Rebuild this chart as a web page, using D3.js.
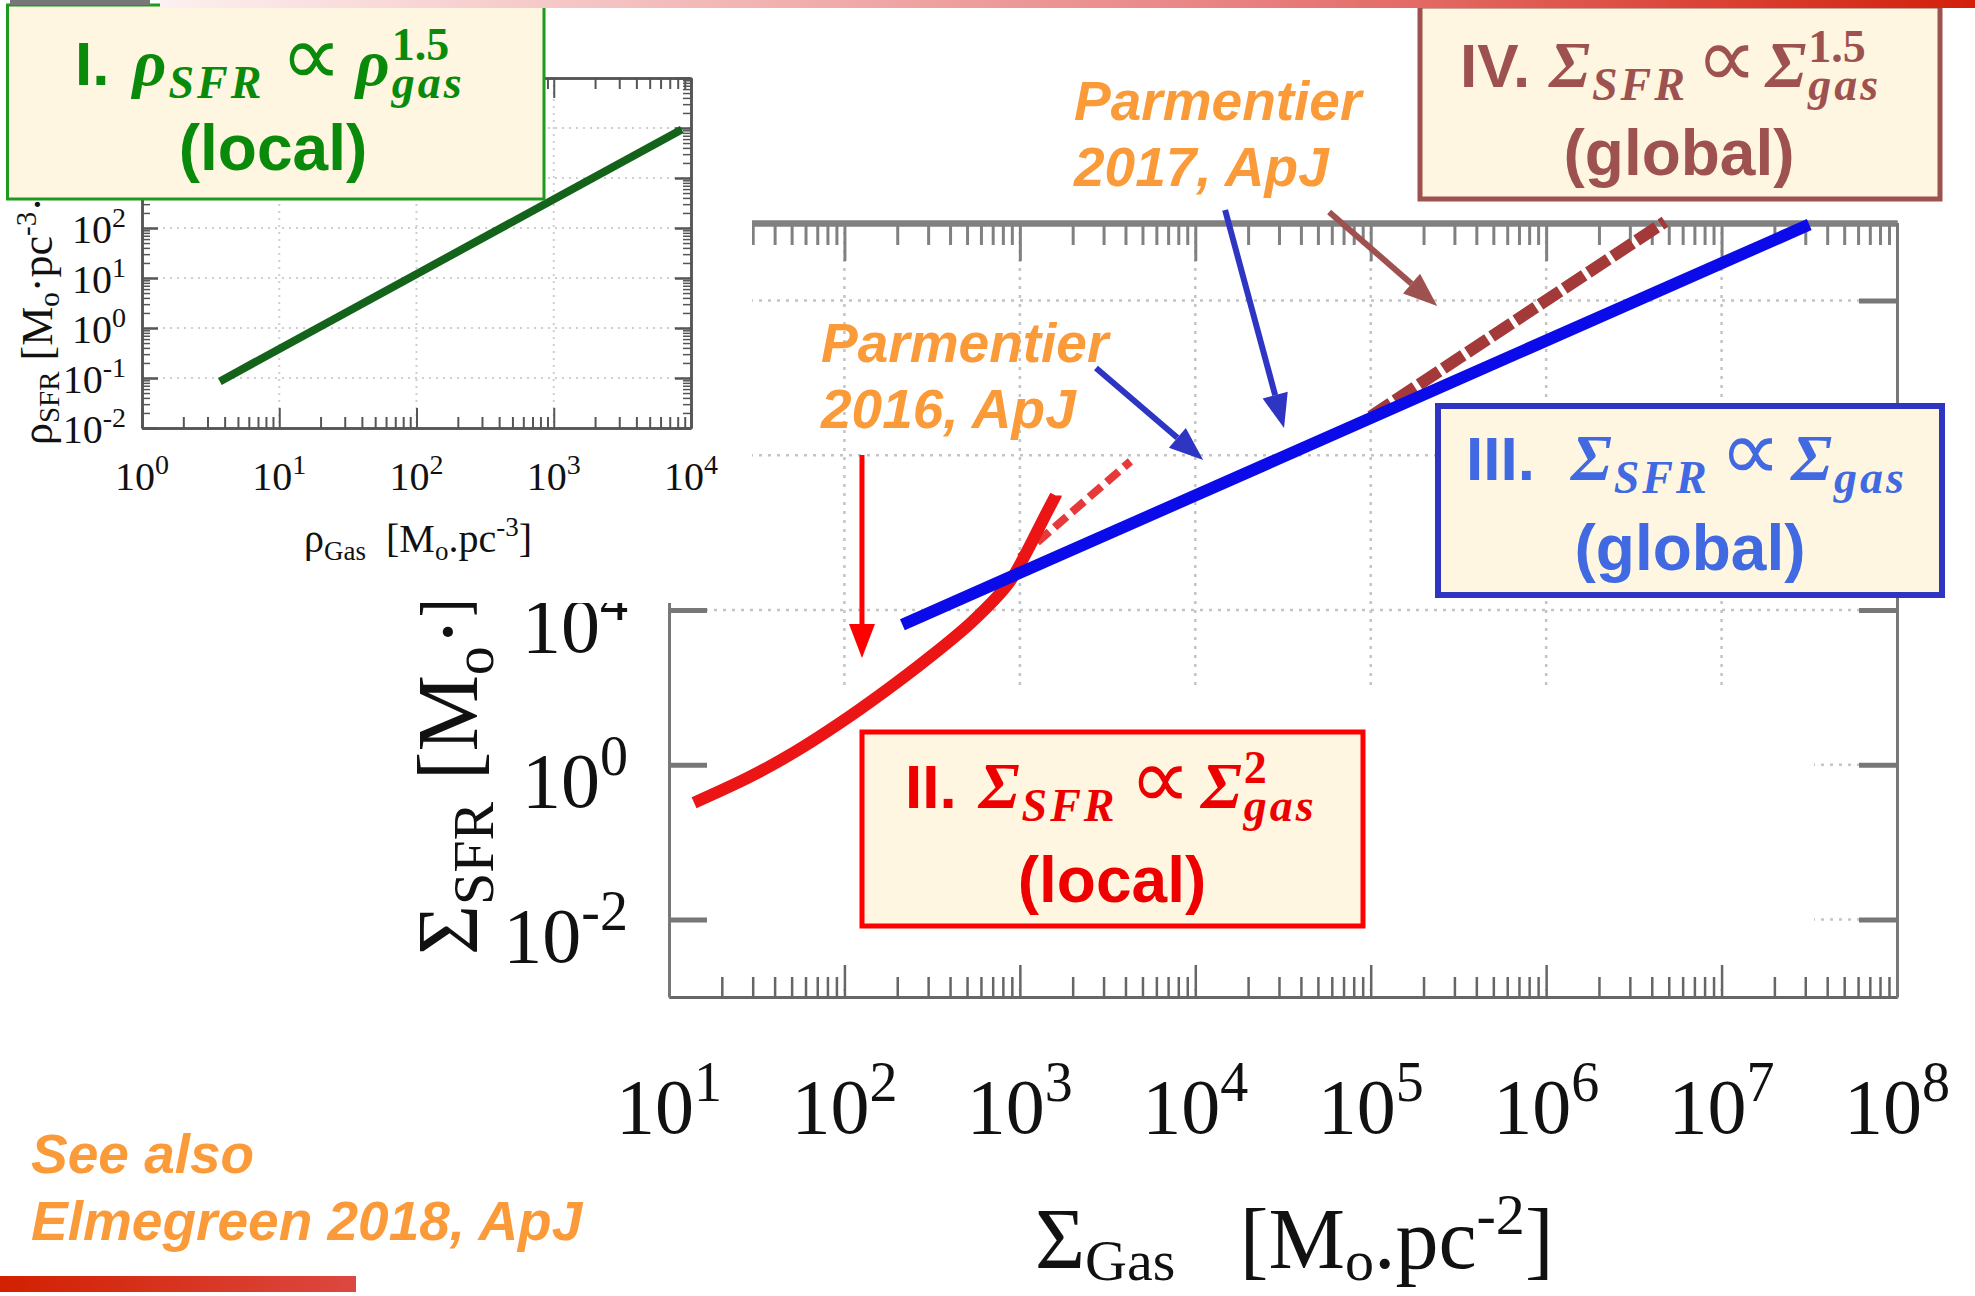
<!doctype html>
<html>
<head>
<meta charset="utf-8">
<script src="https://cdnjs.cloudflare.com/ajax/libs/d3/7.8.5/d3.min.js"></script>
<style>
body { margin:0; background:#fff; }
svg { display:block; background:#fff; }
.serif { font-family: "Liberation Serif", "Times New Roman", serif; }
.sans { font-family: "Liberation Sans", Arial, sans-serif; font-weight: bold; }
.math { font-family: "Liberation Serif", serif; font-style: italic; font-weight: bold; }
.sym { font-family: "DejaVu Sans", sans-serif; }
.sup { font-family: "Liberation Serif", serif; font-weight: bold; font-size: 46px; }
.sub { font-family: "Liberation Serif", serif; font-style: italic; font-weight: bold; font-size: 46px; letter-spacing: 3px; }
.orange { font-family: "Liberation Sans", Arial, sans-serif; font-weight: bold; font-style: italic; font-size: 55px; fill: #fb9a39; }
</style>
</head>
<body>
<svg id="chart" width="1975" height="1296"></svg>
<script>
// main panel: Sigma_SFR vs Sigma_gas
var xTicksMain = [1e1, 1e2, 1e3, 1e4, 1e5, 1e6, 1e7, 1e8];
var xTickExpMain = ["1", "2", "3", "4", "5", "6", "7", "8"];
var yTicksMain = [1e-2, 1e0, 1e2];
var yTickExpMain = ["-2", "0", "4"];
var gridX = [1e2, 1e3, 1e4, 1e5, 1e6, 1e7];
var gridY = [1e-2, 1e0, 1e2, 1e4, 1e6];

var redGas = [13.9, 28.8, 51.9, 93.3, 167.5, 300.6, 540.8, 863, 1091, 1303, 1600];
var redSfr = [0.324, 0.698, 1.455, 3.41, 8.69, 23.8, 72.6, 222.8, 557, 1230, 3020];
var redDashGas = [1000, 4266];
var redDashSfr = [479, 8318];
var blueGas = [214, 3.16e7];
var blueSfr = [64.6, 9.55e6];
var brownGas = [1e5, 4.76e6];
var brownSfr = [3.16e4, 1.04e7];

// arrows, in data units of the main panel
var arrowFrom = [[2716, 1.34e5], [1.479e4, 1.472e7], [5.794e4, 1.387e7], [125.9, 1.007e4]];
var arrowTo = [[1.109e4, 8670], [3.206e4, 2.244e4], [2.393e5, 8.47e5], [125.9, 24.0]];
var arrowColor = ["#2e35c2", "#2e35c2", "#9e5250", "#ff0000"];

// inset: rho_SFR vs rho_gas
var xTicksIn = [1, 10, 100, 1000, 10000];
var xTickExpIn = ["0", "1", "2", "3", "4"];
var yTicksIn = [1e-2, 1e-1, 1, 10, 100];
var yTickExpIn = ["-2", "-1", "0", "1", "2"];
var gridXIn = [10, 100, 1000];
var gridYIn = [1e-1, 1, 10, 100, 1000, 1e4];
var greenGas = [3.69, 8570];
var greenSfr = [0.0855, 9350];

var svg = d3.select("#chart");

function minors(lo, hi) {
  var out = [];
  for (var k = lo; k < hi; k++)
    for (var m = 2; m <= 9; m++) out.push(m * Math.pow(10, k));
  return out;
}

function powLabel(g, xp, yp, exp, size, supSize, supDy, anchor) {
  var t = g.append("text").attr("class", "serif")
    .attr("x", xp).attr("y", yp).attr("text-anchor", anchor)
    .style("font-size", size + "px").attr("fill", "#111");
  t.append("tspan").text("10");
  t.append("tspan").attr("dy", -supDy).style("font-size", supSize + "px").text(exp);
  return t;
}

function styleAxis(g, color, dw, tw) {
  g.select(".domain").attr("stroke", color).attr("stroke-width", dw);
  g.selectAll(".tick line").attr("stroke", color).attr("stroke-width", tw);
}

// ---------------- main panel ----------------
var x = d3.scaleLog().domain([1e1, 1e8]).range([669, 1897]);
var y = d3.scaleLog().domain([1e-3, 1e7]).range([997, 223]);
var main = svg.append("g");

main.selectAll(".gx").data(gridX).enter().append("line")
  .attr("x1", d => x(d)).attr("x2", d => x(d)).attr("y1", 223).attr("y2", 997)
  .attr("stroke", "#c4c4c4").attr("stroke-width", 2.5).attr("stroke-dasharray", "3,6");
main.selectAll(".gy").data(gridY).enter().append("line")
  .attr("x1", 669).attr("x2", 1897).attr("y1", d => y(d)).attr("y2", d => y(d))
  .attr("stroke", "#c4c4c4").attr("stroke-width", 2.5).attr("stroke-dasharray", "3,6");

// blank patch in the lower part of the panel
main.append("rect").attr("x", 680).attr("y", 686).attr("width", 1134).attr("height", 303).attr("fill", "#fff");

var ax;
ax = main.append("g").attr("transform", "translate(0,997)")
  .call(d3.axisTop(x).tickValues(minors(1, 8)).tickSizeInner(20).tickSizeOuter(0).tickFormat(""));
styleAxis(ax, "#666", 3, 2.5);
ax = main.append("g").attr("transform", "translate(0,997)")
  .call(d3.axisTop(x).tickValues(xTicksMain).tickSizeInner(32).tickSizeOuter(0).tickFormat(""));
styleAxis(ax, "#666", 3, 2.5);
ax = main.append("g").attr("transform", "translate(0,223)")
  .call(d3.axisBottom(x).tickValues(minors(1, 8)).tickSizeInner(22).tickSizeOuter(0).tickFormat(""));
styleAxis(ax, "#808080", 6, 3);
ax = main.append("g").attr("transform", "translate(0,223)")
  .call(d3.axisBottom(x).tickValues(xTicksMain).tickSizeInner(38).tickSizeOuter(0).tickFormat(""));
styleAxis(ax, "#808080", 6, 3);
ax = main.append("g").attr("transform", "translate(669,0)")
  .call(d3.axisRight(y).tickValues(gridY).tickSizeInner(38).tickSizeOuter(0).tickFormat(""));
styleAxis(ax, "#777", 3, 5);
ax = main.append("g").attr("transform", "translate(1897,0)")
  .call(d3.axisLeft(y).tickValues(gridY).tickSizeInner(38).tickSizeOuter(0).tickFormat(""));
styleAxis(ax, "#777", 3, 5);
main.selectAll(".tick text").remove();

var lineStraight = d3.line().x(d => x(d[0])).y(d => y(d[1]));
var lineCurve = d3.line().x(d => x(d[0])).y(d => y(d[1])).curve(d3.curveCatmullRom.alpha(0.5));

main.append("path").datum(d3.zip(redDashGas, redDashSfr)).attr("d", lineStraight)
  .attr("fill", "none").attr("stroke", "#e8393a").attr("stroke-width", 8).attr("stroke-dasharray", "16,7");
main.append("path").datum(d3.zip(redGas, redSfr)).attr("d", lineCurve)
  .attr("fill", "none").attr("stroke", "#ec1515").attr("stroke-width", 12);
main.append("path").datum(d3.zip(brownGas, brownSfr)).attr("d", lineStraight)
  .attr("fill", "none").attr("stroke", "#a4393a").attr("stroke-width", 12).attr("stroke-dasharray", "24,5");
main.append("path").datum(d3.zip(blueGas, blueSfr)).attr("d", lineStraight)
  .attr("fill", "none").attr("stroke", "#0b0bea").attr("stroke-width", 12);

xTicksMain.forEach(function (v, i) { powLabel(main, x(v), 1133, xTickExpMain[i], 78, 56, 32, "middle"); });
yTicksMain.forEach(function (v, i) { powLabel(main, 628, y(v) + 42, yTickExpMain[i], 78, 56, 32, "end"); });

var xt = main.append("text").attr("class", "serif").attr("x", 1035).attr("y", 1268)
  .style("font-size", "86px").attr("fill", "#111");
xt.append("tspan").text("Σ");
xt.append("tspan").attr("dy", 12).style("font-size", "58px").text("Gas");
xt.append("tspan").attr("dy", -12).text("\u00a0\u00a0\u00a0[M");
xt.append("tspan").attr("dy", 12).style("font-size", "58px").text("o");
xt.append("tspan").attr("dy", -12).text(".pc");
xt.append("tspan").attr("dy", -34).style("font-size", "58px").text("-2");
xt.append("tspan").attr("dy", 34).text("]");

var yt = main.append("text").attr("class", "serif").attr("transform", "translate(477,955) rotate(-90)")
  .style("font-size", "86px").attr("fill", "#111");
yt.append("tspan").text("Σ");
yt.append("tspan").attr("dy", 16).style("font-size", "58px").text("SFR");
yt.append("tspan").attr("dy", -16).text("\u00a0[M");
yt.append("tspan").attr("dy", 16).style("font-size", "58px").text("o");
yt.append("tspan").attr("dy", -16).text("·Pc");
yt.append("tspan").attr("dy", -34).style("font-size", "58px").text("-2");
yt.append("tspan").attr("dy", 34).text("·Myr]");

// ---------------- inset ----------------
var xi = d3.scaleLog().domain([1, 1e4]).range([142, 691]);
var yi = d3.scaleLog().domain([1e-2, 1e5]).range([428, 78]);
var inset = svg.append("g");
inset.append("rect").attr("x", 0).attr("y", 0).attr("width", 752).attr("height", 603).attr("fill", "#fff");

inset.selectAll(".gx").data(gridXIn).enter().append("line")
  .attr("x1", d => xi(d)).attr("x2", d => xi(d)).attr("y1", 78).attr("y2", 428)
  .attr("stroke", "#cfcfcf").attr("stroke-width", 2).attr("stroke-dasharray", "2,5");
inset.selectAll(".gy").data(gridYIn).enter().append("line")
  .attr("x1", 142).attr("x2", 691).attr("y1", d => yi(d)).attr("y2", d => yi(d))
  .attr("stroke", "#cfcfcf").attr("stroke-width", 2).attr("stroke-dasharray", "2,5");

var yMajIn = [1e-2, 1e-1, 1, 10, 100, 1000, 1e4, 1e5];
ax = inset.append("g").attr("transform", "translate(0,428)")
  .call(d3.axisTop(xi).tickValues(minors(0, 4)).tickSizeInner(11).tickSizeOuter(0).tickFormat(""));
styleAxis(ax, "#555", 2.5, 2);
ax = inset.append("g").attr("transform", "translate(0,428)")
  .call(d3.axisTop(xi).tickValues(xTicksIn).tickSizeInner(20).tickSizeOuter(0).tickFormat(""));
styleAxis(ax, "#555", 2.5, 2);
ax = inset.append("g").attr("transform", "translate(0,78)")
  .call(d3.axisBottom(xi).tickValues(minors(0, 4)).tickSizeInner(11).tickSizeOuter(0).tickFormat(""));
styleAxis(ax, "#555", 2.5, 2);
ax = inset.append("g").attr("transform", "translate(0,78)")
  .call(d3.axisBottom(xi).tickValues(xTicksIn).tickSizeInner(20).tickSizeOuter(0).tickFormat(""));
styleAxis(ax, "#555", 2.5, 2);
ax = inset.append("g").attr("transform", "translate(142,0)")
  .call(d3.axisRight(yi).tickValues(minors(-2, 5)).tickSizeInner(8).tickSizeOuter(0).tickFormat(""));
styleAxis(ax, "#555", 2.5, 1.5);
ax = inset.append("g").attr("transform", "translate(142,0)")
  .call(d3.axisRight(yi).tickValues(yMajIn).tickSizeInner(16).tickSizeOuter(0).tickFormat(""));
styleAxis(ax, "#555", 2.5, 2.5);
ax = inset.append("g").attr("transform", "translate(691,0)")
  .call(d3.axisLeft(yi).tickValues(minors(-2, 5)).tickSizeInner(8).tickSizeOuter(0).tickFormat(""));
styleAxis(ax, "#555", 2.5, 1.5);
ax = inset.append("g").attr("transform", "translate(691,0)")
  .call(d3.axisLeft(yi).tickValues(yMajIn).tickSizeInner(16).tickSizeOuter(0).tickFormat(""));
styleAxis(ax, "#555", 2.5, 2.5);
inset.selectAll(".tick text").remove();

inset.append("path").datum(d3.zip(greenGas, greenSfr))
  .attr("d", d3.line().x(d => xi(d[0])).y(d => yi(d[1])))
  .attr("fill", "none").attr("stroke", "#14631a").attr("stroke-width", 8);

xTicksIn.forEach(function (v, i) { powLabel(inset, xi(v), 490, xTickExpIn[i], 40, 28, 16, "middle"); });
yTicksIn.forEach(function (v, i) { powLabel(inset, 126, yi(v) + 15, yTickExpIn[i], 40, 28, 16, "end"); });

var ixt = inset.append("text").attr("class", "serif").attr("x", 418).attr("y", 552)
  .attr("text-anchor", "middle").style("font-size", "40px").attr("fill", "#111");
ixt.append("tspan").text("ρ");
ixt.append("tspan").attr("dy", 8).style("font-size", "27px").text("Gas");
ixt.append("tspan").attr("dy", -8).text("\u00a0\u00a0[M");
ixt.append("tspan").attr("dy", 8).style("font-size", "27px").text("o");
ixt.append("tspan").attr("dy", -8).text(".pc");
ixt.append("tspan").attr("dy", -16).style("font-size", "27px").text("-3");
ixt.append("tspan").attr("dy", 16).text("]");

var iyt = inset.append("text").attr("class", "serif").attr("transform", "translate(52,445) rotate(-90)")
  .style("font-size", "44px").attr("fill", "#111");
iyt.append("tspan").text("ρ");
iyt.append("tspan").attr("dy", 7).style("font-size", "29px").text("SFR");
iyt.append("tspan").attr("dy", -7).text("\u00a0[M");
iyt.append("tspan").attr("dy", 7).style("font-size", "29px").text("o");
iyt.append("tspan").attr("dy", -7).text("·pc");
iyt.append("tspan").attr("dy", -16).style("font-size", "29px").text("-3");
iyt.append("tspan").attr("dy", 16).text("·Myr]");

// ---------------- boxes ----------------
var FILL = "#fef6e0";
function box(x0, y0, x1, y1, stroke, sw) {
  svg.append("rect").attr("x", x0).attr("y", y0).attr("width", x1 - x0).attr("height", y1 - y0)
    .attr("fill", FILL).attr("stroke", stroke).attr("stroke-width", sw);
}
function formula(x0, base, color, parts) {
  var g = svg.append("g").attr("fill", color);
  var cur = x0;
  parts.forEach(function (p) {
    cur += p.pre || 0;
    var t = g.append("text").attr("x", cur).attr("y", base).attr("class", p.f)
      .style("font-size", p.s + "px").text(p.t);
    cur += t.node().getComputedTextLength();
    var w = 0;
    if (p.sup) {
      var s = g.append("text").attr("x", cur + 2).attr("y", base - 25).attr("class", "sup").text(p.sup);
      w = Math.max(w, s.node().getComputedTextLength() + 2);
    }
    if (p.sub) {
      var b = g.append("text").attr("x", cur + 2).attr("y", base + 13).attr("class", "sub").text(p.sub);
      w = Math.max(w, b.node().getComputedTextLength() + 2);
    }
    cur += w;
  });
}
function line2(cx, base, color, txt) {
  svg.append("text").attr("class", "sans").attr("x", cx).attr("y", base).attr("text-anchor", "middle")
    .style("font-size", "64px").attr("fill", color).text(txt);
}

box(7.5, 5, 544, 199, "#1f9a1f", 3);
formula(75, 85, "#0a8a0a", [
  { t: "I.", f: "sans", s: 62 },
  { t: "ρ", f: "math", s: 66, pre: 23, sub: "SFR" },
  { t: "∝", f: "sym", s: 86, pre: 16 },
  { t: "ρ", f: "math", s: 66, pre: 14, sup: "1.5", sub: "gas" }
]);
line2(273, 170, "#0a8a0a", "(local)");

box(862, 732, 1363, 926, "#ff0000", 5);
formula(905, 808, "#ee0000", [
  { t: "II.", f: "sans", s: 62 },
  { t: "Σ", f: "math", s: 66, pre: 22, sub: "SFR" },
  { t: "∝", f: "sym", s: 86, pre: 12 },
  { t: "Σ", f: "math", s: 66, pre: 10, sup: "2", sub: "gas" }
]);
line2(1112, 902, "#ee0000", "(local)");

box(1438, 406, 1942, 595, "#2f35c0", 6);
formula(1466, 480, "#4169e1", [
  { t: "III.", f: "sans", s: 62 },
  { t: "Σ", f: "math", s: 66, pre: 36, sub: "SFR" },
  { t: "∝", f: "sym", s: 86, pre: 10 },
  { t: "Σ", f: "math", s: 66, pre: 10, sub: "gas" }
]);
line2(1690, 570, "#4169e1", "(global)");

box(1420, 6, 1940, 199, "#9e5250", 5);
formula(1460, 87, "#9e5250", [
  { t: "IV.", f: "sans", s: 62 },
  { t: "Σ", f: "math", s: 66, pre: 19, sub: "SFR" },
  { t: "∝", f: "sym", s: 86, pre: 8 },
  { t: "Σ", f: "math", s: 66, pre: 8, sup: "1.5", sub: "gas" }
]);
line2(1679, 175, "#9e5250", "(global)");

// ---------------- arrows and notes ----------------
arrowFrom.forEach(function (f, i) {
  var x1 = x(f[0]), y1 = y(f[1]), x2 = x(arrowTo[i][0]), y2 = y(arrowTo[i][1]);
  var a = Math.atan2(y2 - y1, x2 - x1), L = 34, W = 13;
  var bx = x2 - L * Math.cos(a), by = y2 - L * Math.sin(a);
  svg.append("line").attr("x1", x1).attr("y1", y1).attr("x2", bx).attr("y2", by)
    .attr("stroke", arrowColor[i]).attr("stroke-width", i === 3 ? 5 : 6);
  svg.append("polygon").attr("fill", arrowColor[i]).attr("points", [
    [x2, y2],
    [bx + W * Math.sin(a), by - W * Math.cos(a)],
    [bx - W * Math.sin(a), by + W * Math.cos(a)]
  ].map(p => p.join(",")).join(" "));
});

svg.append("text").attr("class", "orange").attr("x", 1074).attr("y", 120).text("Parmentier");
svg.append("text").attr("class", "orange").attr("x", 1074).attr("y", 186).text("2017, ApJ");
svg.append("text").attr("class", "orange").attr("x", 821).attr("y", 362).text("Parmentier");
svg.append("text").attr("class", "orange").attr("x", 821).attr("y", 428).text("2016, ApJ");
svg.append("text").attr("class", "orange").attr("x", 31).attr("y", 1173).text("See also");
svg.append("text").attr("class", "orange").attr("x", 31).attr("y", 1240).text("Elmegreen 2018, ApJ");

// slide decoration bars
var defs = svg.append("defs");
var gt = defs.append("linearGradient").attr("id", "gtop");
gt.append("stop").attr("offset", "0%").attr("stop-color", "#fdf0f0");
gt.append("stop").attr("offset", "60%").attr("stop-color", "#e88080");
gt.append("stop").attr("offset", "100%").attr("stop-color", "#d2200a");
var gb = defs.append("linearGradient").attr("id", "gbot");
gb.append("stop").attr("offset", "0%").attr("stop-color", "#d22000");
gb.append("stop").attr("offset", "100%").attr("stop-color", "#dc4840");
svg.append("rect").attr("x", 160).attr("y", 0).attr("width", 1815).attr("height", 8).attr("fill", "url(#gtop)");
svg.append("rect").attr("x", 0).attr("y", 1276).attr("width", 356).attr("height", 16).attr("fill", "url(#gbot)");
svg.append("rect").attr("x", 10).attr("y", 0).attr("width", 140).attr("height", 5).attr("fill", "#777");
</script>
</body>
</html>
